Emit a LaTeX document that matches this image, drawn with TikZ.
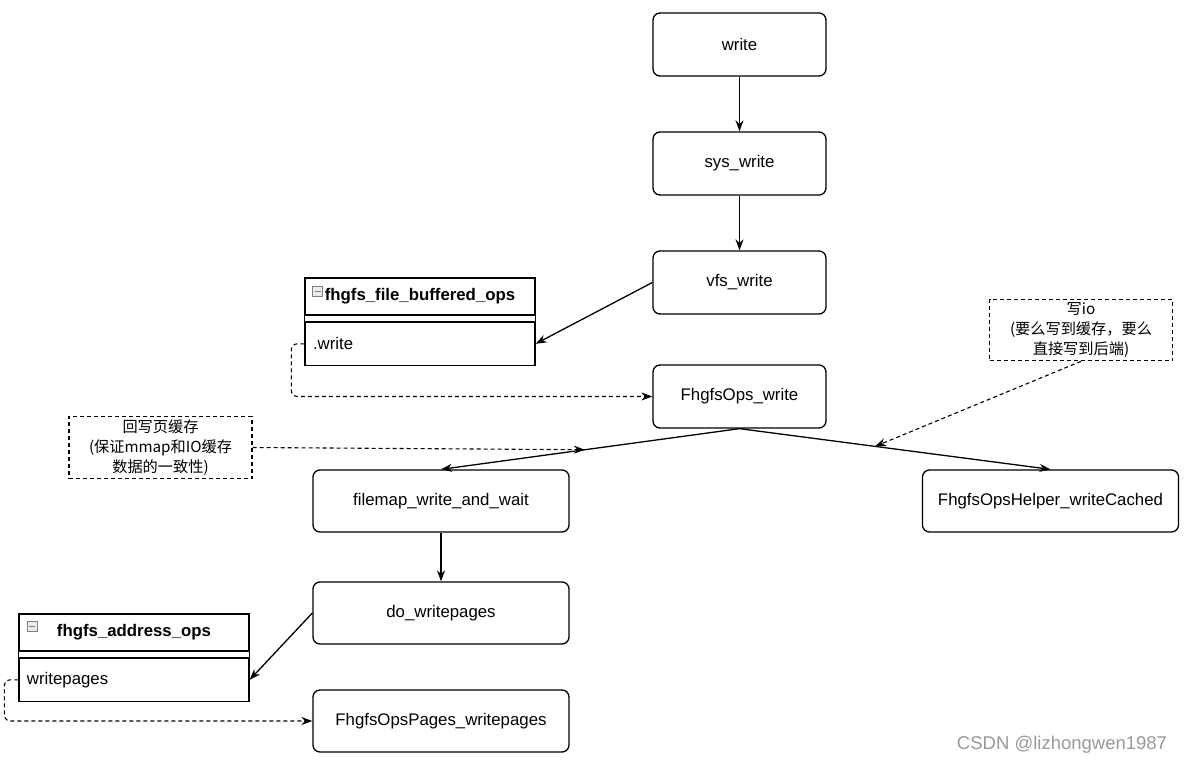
\documentclass[tikz,border=0pt]{standalone}
\usepackage{fontspec}
\setmainfont{Liberation Sans}
\newfontfamily\cjk{Noto Sans CJK SC}
\usetikzlibrary{arrows.meta,calc,positioning}

\begin{document}
\begin{tikzpicture}[x=1pt,y=-1pt,
		func/.style={draw, line width=1.3pt, rounded corners=7pt, minimum width=173pt, minimum height=63pt, font=\fontsize{16.8}{20}\selectfont},
		widefunc/.style={func, minimum width=256pt, minimum height=62pt},
		classhead/.style={draw, line width=1.3pt, minimum width=230pt, minimum height=37pt, font=\fontsize{16.8}{20}\selectfont\bfseries},
		classbody/.style={draw, line width=1.3pt, text width=214pt, inner xsep=8pt, minimum height=43pt, align=left, font=\fontsize{16.8}{20}\selectfont},
		icon/.style={draw=gray, fill=gray!15, minimum size=10pt, inner sep=0pt, path picture={\draw[line width=1pt] ([xshift=2pt]path picture bounding box.west) -- ([xshift=-2pt]path picture bounding box.east);}},
		note/.style={draw, line width=1.1pt, dash pattern=on 4pt off 3pt, minimum width=183pt, minimum height=61pt, align=center, font=\cjk\fontsize{15.2}{20}\selectfont},
		arrow/.style={line width=1.3pt, -{Stealth[length=11pt,width=8pt]}},
		dasharrow/.style={arrow, line width=1.1pt, dash pattern=on 4pt off 3pt}
	]
	\useasboundingbox (0,0) rectangle (1185,765);
	
	% Define write chain
	\node[func] (NodeWrite) at (739.5,44.5) {write};
	\node[func] (NodeSysWrite) at (739.5,163.5) {sys\_write};
	\node[func] (NodeVfsWrite) at (739.5,282.5) {vfs\_write};
	\node[func] (NodeOpsWrite) at (739.5,396.5) {FhgfsOps\_write};
	
	\draw[arrow] (NodeWrite) -- (NodeSysWrite);
	\draw[arrow] (NodeSysWrite) -- (NodeVfsWrite);
	
	% Define fhgfs_file_buffered_ops
	\node[classhead] (BufferedHead) at (420,296.5) {fhgfs\_file\_buffered\_ops};
	\node[classbody, below=6pt of BufferedHead] (BufferedBody) {.write};
	\draw[line width=1.3pt] (BufferedHead.south west) rectangle (BufferedBody.north east);
	\node[icon] (BufferedIcon) at (317.5,291.5) {};
	
	\draw[arrow] (NodeVfsWrite.west) -- (BufferedBody.east);
	\draw[dasharrow, rounded corners=6pt] (BufferedBody.west) -- ++(-13,0) |- (NodeOpsWrite.west);
	
	% Define filemap_write_and_wait and FhgfsOpsHelper_writeCached
	\node[widefunc] (NodeFilemap) at (441,501) {filemap\_write\_and\_wait};
	\node[widefunc] (NodeHelper) at (1050.5,501) {FhgfsOpsHelper\_writeCached};
	
	\draw[arrow] (NodeOpsWrite.south) -- (NodeFilemap.north);
	\draw[arrow] (NodeOpsWrite.south) -- (NodeHelper.north);
	
	% Define notes
	\node[note] (NoteFlush) at (160.5,447.5) {回写页缓存\\(保证mmap和IO缓存\\数据的一致性)};
	\node[note] (NoteWriteIo) at (1081,330) {写io\\(要么写到缓存，要么\\直接写到后端)};
	\coordinate (HitFlush) at ($(NodeOpsWrite.south)!0.518!(NodeFilemap.north)$);
	\coordinate (HitWriteIo) at ($(NodeOpsWrite.south)!0.436!(NodeHelper.north)$);
	
	\draw[dasharrow] (NoteFlush.east) -- (HitFlush);
	\draw[dasharrow] (NoteWriteIo.south) -- (HitWriteIo);
	
	% Define do_writepages and FhgfsOpsPages_writepages
	\node[widefunc] (NodeDoWrite) at (441,613) {do\_writepages};
	\node[widefunc] (NodePagesWrite) at (441,721) {FhgfsOpsPages\_writepages};
	
	\draw[arrow] (NodeFilemap) -- (NodeDoWrite);
	
	% Define fhgfs_address_ops
	\node[classhead] (AddressHead) at (134,632.5) {fhgfs\_address\_ops};
	\node[classbody, below=6pt of AddressHead] (AddressBody) {writepages};
	\draw[line width=1.3pt] (AddressHead.south west) rectangle (AddressBody.north east);
	\node[icon] (AddressIcon) at (32,626.5) {};
	
	\draw[arrow] (NodeDoWrite.west) -- (AddressBody.east);
	\draw[dasharrow, rounded corners=6pt] (AddressBody.west) -- ++(-14,0) |- (NodePagesWrite.west);
	
	% Watermark
	\node[text=gray!80, font=\fontsize{18.5}{20}\selectfont] (Mark) at (1062,745) {CSDN @lizhongwen1987};
\end{tikzpicture}
\end{document}
